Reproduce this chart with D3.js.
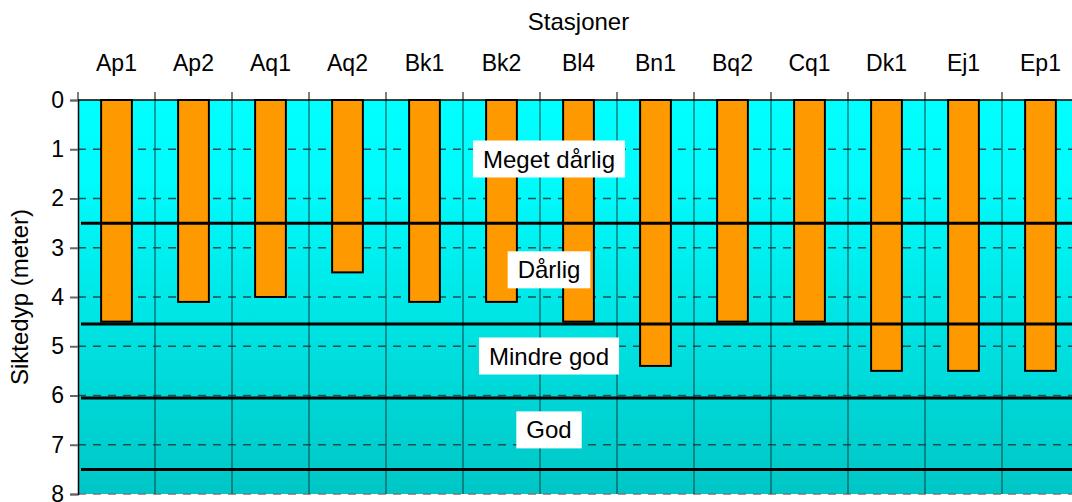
<!DOCTYPE html>
<html>
<head>
<meta charset="utf-8">
<script src="https://cdn.jsdelivr.net/npm/d3@7"></script>
<style>
  body { margin: 0; background: #fff; }
  svg text { font-family: "Liberation Sans", Arial, sans-serif; fill: #000; }
</style>
</head>
<body>
<div id="root"></div>
<script>
// stations and visibility depth (m)
var stations = ["Ap1", "Ap2", "Aq1", "Aq2", "Bk1", "Bk2", "Bl4", "Bn1", "Bq2", "Cq1", "Dk1", "Ej1", "Ep1"];
var depths = [4.5, 4.1, 4.0, 3.5, 4.1, 4.1, 4.5, 5.4, 4.5, 4.5, 5.5, 5.5, 5.5];
// class limits and class names
var limits = [2.5, 4.55, 6.05, 7.5];
var zoneNames = ["Meget dårlig", "Dårlig", "Mindre god", "God"];
var zoneLabelDepth = [1.2, 3.45, 5.2, 6.7];
var yTicks = [0, 1, 2, 3, 4, 5, 6, 7, 8];

var w = 1072, h = 502;
var margin = { top: 100, left: 78 };
var plotRight = 1079;

var svg = d3.select("#root").append("svg").attr("width", w).attr("height", h);

var x = d3.scaleBand().domain(stations).range([margin.left, plotRight]).padding(0);
var y = d3.scaleLinear().domain([0, 8]).range([margin.top, 494]);

// background gradient
var defs = svg.append("defs");
var grad = defs.append("linearGradient").attr("id", "bg").attr("x1", 0).attr("y1", 0).attr("x2", 0).attr("y2", 1);
grad.append("stop").attr("offset", "0").attr("stop-color", "#00ffff");
grad.append("stop").attr("offset", "0.2").attr("stop-color", "#00fcfc");
grad.append("stop").attr("offset", "1").attr("stop-color", "#00c6c6");

svg.append("rect").attr("x", margin.left).attr("y", y(0))
  .attr("width", plotRight - margin.left).attr("height", y(8) - y(0))
  .attr("fill", "url(#bg)");

// horizontal dashed grid
svg.append("g").selectAll("line").data(yTicks.slice(1)).enter().append("line")
  .attr("x1", margin.left).attr("x2", plotRight)
  .attr("y1", function(d) { return y(d); }).attr("y2", function(d) { return y(d); })
  .attr("stroke", function(d) { return d === 8 ? "#777" : "#1f4f4f"; })
  .attr("stroke-width", 1.5).attr("stroke-dasharray", "8,7");

// vertical grid at station boundaries
svg.append("g").selectAll("line").data(stations.slice(1)).enter().append("line")
  .attr("x1", function(d) { return x(d); }).attr("x2", function(d) { return x(d); })
  .attr("y1", y(0)).attr("y2", y(8))
  .attr("stroke", "#153f3f").attr("stroke-width", 1);

// bars
var bw = x.bandwidth() * 0.4;
svg.append("g").selectAll("rect").data(stations).enter().append("rect")
  .attr("x", function(d) { return x(d) + (x.bandwidth() - bw) / 2; })
  .attr("y", y(0))
  .attr("width", bw)
  .attr("height", function(d, i) { return y(depths[i]) - y(0); })
  .attr("fill", "#ff9900").attr("stroke", "#000").attr("stroke-width", 2);

// class limit lines
svg.append("g").selectAll("line").data(limits).enter().append("line")
  .attr("x1", margin.left + 3).attr("x2", plotRight)
  .attr("y1", function(d) { return y(d); }).attr("y2", function(d) { return y(d); })
  .attr("stroke", "#000").attr("stroke-width", 3);

// zone labels with white boxes
var zl = svg.append("g").selectAll("g").data(zoneNames).enter().append("g");
zl.append("text")
  .attr("x", x("Bl4") + 9)
  .attr("y", function(d, i) { return y(zoneLabelDepth[i]); })
  .attr("dy", "0.35em").attr("text-anchor", "middle")
  .style("font-size", "24px").text(function(d) { return d; });
zl.each(function() {
  var g = d3.select(this);
  var b = g.select("text").node().getBBox();
  g.insert("rect", "text").attr("x", b.x - 10).attr("y", b.y - 5)
    .attr("width", b.width + 20).attr("height", b.height + 10).attr("fill", "#fff");
});

// left axis
var yAxis = d3.axisLeft(y).tickValues(yTicks).tickSize(8).tickPadding(6).tickFormat(d3.format("d"));
var ga = svg.append("g").attr("transform", "translate(" + margin.left + ",0)").call(yAxis);
ga.select(".domain").attr("stroke", "#000").attr("stroke-width", 1.5);
ga.selectAll(".tick line").attr("stroke", "#666").attr("stroke-width", 2);
ga.selectAll(".tick text").style("font-size", "23px").style("font-family", "Liberation Sans, Arial, sans-serif");

// top axis: labels at band centres, ticks at band boundaries
var xAxis = d3.axisTop(x).tickSize(0).tickPadding(29);
var gx = svg.append("g").attr("transform", "translate(0," + margin.top + ")").call(xAxis);
gx.select(".domain").remove();
gx.selectAll(".tick text").style("font-size", "23px").style("font-family", "Liberation Sans, Arial, sans-serif");
svg.append("g").selectAll("line").data(stations).enter().append("line")
  .attr("x1", function(d) { return x(d); }).attr("x2", function(d) { return x(d); })
  .attr("y1", margin.top - 8).attr("y2", margin.top)
  .attr("stroke", "#555").attr("stroke-width", 1.5);
svg.append("line").attr("x1", margin.left).attr("x2", plotRight).attr("y1", margin.top).attr("y2", margin.top)
  .attr("stroke", "#000").attr("stroke-width", 1.5);

// titles
svg.append("text").attr("x", (margin.left + plotRight) / 2).attr("y", 30).attr("text-anchor", "middle")
  .style("font-size", "24px").text("Stasjoner");
svg.append("text").attr("transform", "translate(28,297) rotate(-90)")
  .attr("text-anchor", "middle").style("font-size", "24px").text("Siktedyp (meter)");
</script>
</body>
</html>
